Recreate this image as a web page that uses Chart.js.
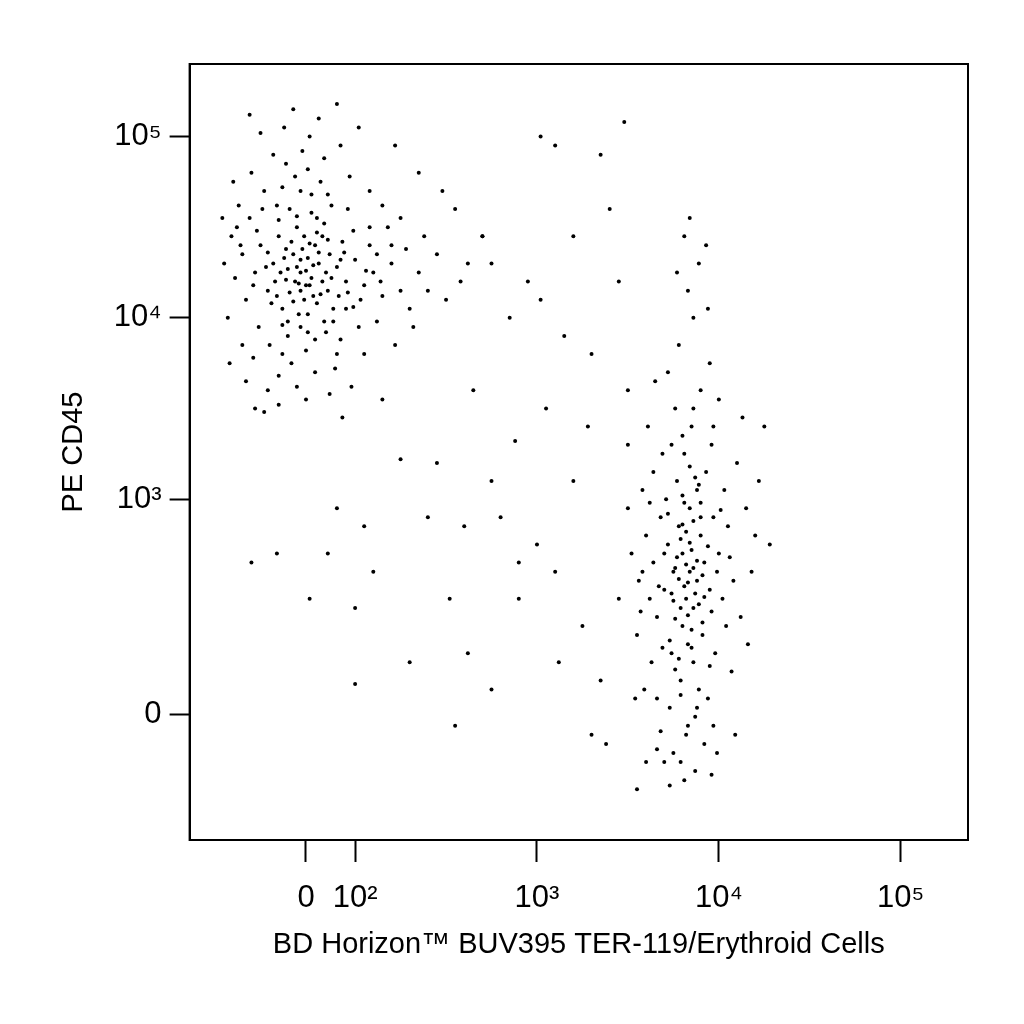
<!DOCTYPE html>
<html><head><script src="https://cdn.jsdelivr.net/npm/chart.js@4"></script>
<style>body{margin:0;background:#fff}</style></head>
<body><canvas id="c" width="1024" height="1024"></canvas>
<script>
// Axis units: decade position (2 = 10^2, 3 = 10^3 ...), "0" is at 1.73 on x, 1.81 on y (biexponential display)
const xTickValues=[1.73,2,3,4,5];
const xTickLabels=["0","10²","10³","10⁴","10⁵"];
const yTickValues=[1.81,3,4,5];
const yTickLabels=["0","10³","10⁴","10⁵"];
const xTitle="BD Horizon™ BUV395 TER-119/Erythroid Cells";
const yTitle="PE CD45";
// Leukocyte cluster (CD45+ TER-119-)
const leukocytes=[[1.62,4.21],[1.70,4.25],[1.75,4.18],[1.80,4.30],[1.66,4.35],[1.72,4.10],[1.85,4.15],[1.78,4.40],[1.60,4.05],[1.68,4.50],[1.90,4.28],[1.55,4.30],[1.74,4.02],[1.82,4.45],[1.95,4.20],[1.58,4.45],[1.64,4.60],[1.88,4.05],[2.00,4.32],[1.52,4.15],[1.70,3.95],[1.79,4.55],[1.63,3.90],[1.93,4.42],[2.05,4.18],[1.48,4.40],[1.57,4.62],[1.84,3.92],[1.76,4.68],[1.67,4.78],[1.45,4.25],[1.99,4.06],[2.10,4.25],[1.42,4.55],[1.53,3.85],[1.87,4.62],[1.73,3.82],[2.08,4.40],[1.60,4.72],[1.81,4.75],[1.40,4.10],[2.15,4.12],[1.50,4.70],[1.92,3.88],[1.65,3.75],[2.02,3.95],[1.38,4.35],[1.78,3.70],[2.20,4.30],[1.47,3.95],[1.58,3.68],[1.96,4.60],[1.36,4.62],[1.83,4.88],[1.62,4.85],[2.12,3.98],[1.71,4.92],[1.44,3.78],[2.25,4.15],[1.89,3.72],[1.55,4.90],[2.18,4.50],[1.34,4.22],[1.68,3.62],[2.05,3.80],[1.32,4.45],[1.97,4.78],[1.52,3.60],[2.28,4.38],[1.75,5.00],[1.43,4.80],[2.30,4.05],[1.86,3.58],[1.61,5.05],[2.35,4.25],[1.30,4.00],[1.40,3.65],[2.22,3.85],[1.92,4.95],[1.33,4.75],[2.40,4.15],[1.73,3.55],[2.08,4.70],[1.48,5.02],[1.28,4.30],[2.15,4.62],[1.58,3.52],[1.98,3.62],[2.32,3.95],[1.80,5.10],[1.38,3.85],[2.45,4.35],[1.66,5.15],[2.25,4.55],[1.27,4.55],[2.02,5.05],[1.50,3.48],[2.38,4.45],[1.90,5.18],[1.31,3.75],[2.50,4.10],[1.70,4.15],[1.76,4.22],[1.68,4.28],[1.82,4.20],[1.74,4.33],[1.64,4.14],[1.79,4.08],[1.71,4.38],[1.86,4.35],[1.59,4.25],[1.73,4.26],[1.77,4.12],[1.67,4.20],[1.84,4.25],[1.61,4.33],[1.72,4.45],[1.80,4.36],[1.69,4.02],[1.91,4.12],[1.56,4.20],[1.94,4.36],[1.65,4.42],[1.83,4.52],[1.58,4.54],[1.76,4.58],[2.06,4.26],[1.54,4.08],[1.88,3.98],[1.99,4.48],[1.46,4.48],[2.12,4.35],[1.63,3.98],[1.78,3.88],[2.03,4.10],[1.49,4.60],[1.37,4.40],[1.85,4.68],[2.14,4.20],[1.70,4.70],[1.51,4.28],[1.95,4.05],[2.08,4.50],[1.60,3.80],[1.44,4.18],[1.90,3.80],[2.20,4.40],[1.35,4.50],[1.74,4.82],[2.55,4.60],[2.62,4.30],[2.70,4.45],[2.48,4.70],[2.58,4.20],[1.45,3.50],[1.42,5.12],[1.93,3.45],[1.69,4.19],[1.77,4.29],[1.63,4.27],[1.81,4.13],[1.73,4.18],[1.66,4.09],[1.87,4.22],[1.75,4.41],[1.62,4.38],[1.79,4.47],[1.70,4.32],[1.85,4.43],[1.57,4.12],[1.92,4.32],[1.68,4.56],[1.74,3.92],[1.60,3.96],[1.83,3.98],[1.96,4.14],[1.52,4.36]];
// Erythroid cluster (TER-119+ CD45 low)
const erythroid=[[3.84,2.60],[3.80,2.70],[3.88,2.55],[3.82,2.45],[3.90,2.80],[3.78,2.85],[3.86,2.40],[3.92,2.65],[3.75,2.60],[3.84,2.95],[3.80,2.30],[3.95,2.50],[3.72,2.75],[3.88,3.05],[3.83,2.20],[3.97,2.90],[3.70,2.50],[3.91,2.25],[3.77,3.10],[3.86,2.10],[4.00,2.70],[3.68,2.90],[3.93,3.15],[3.74,2.15],[3.89,1.95],[3.81,3.25],[4.02,2.45],[3.66,2.35],[3.96,3.30],[3.79,2.00],[3.85,3.40],[3.71,3.00],[4.05,2.85],[3.64,2.65],[3.94,1.90],[3.76,3.50],[3.87,1.80],[4.03,3.05],[3.62,2.45],[3.98,2.15],[3.73,1.85],[3.90,3.60],[4.08,2.55],[3.60,2.80],[3.82,1.70],[3.95,3.75],[3.69,3.25],[4.10,3.20],[3.63,2.10],[3.78,3.85],[3.92,1.65],[4.12,2.35],[3.58,3.05],[3.86,4.00],[3.75,1.60],[4.00,3.55],[3.66,1.90],[3.83,4.15],[4.15,2.95],[3.56,2.55],[3.97,1.75],[3.72,3.70],[4.07,2.05],[3.61,3.40],[3.89,4.30],[3.79,1.55],[4.18,2.60],[3.55,2.25],[3.94,4.05],[3.68,1.72],[4.13,3.45],[3.81,4.45],[3.87,1.50],[4.20,2.80],[3.59,1.95],[3.77,4.25],[3.99,1.60],[4.16,2.20],[3.84,4.55],[3.65,3.65],[3.52,2.70],[4.22,3.10],[3.70,1.55],[3.93,4.40],[3.76,2.62],[3.85,2.72],[3.81,2.52],[3.88,2.66],[3.79,2.78],[3.83,2.36],[3.91,2.58],[3.74,2.48],[3.86,2.88],[3.78,2.56],[3.82,2.82],[3.89,2.42],[3.77,2.68],[3.94,2.74],[3.72,2.92],[3.85,2.28],[3.80,3.02],[3.96,2.38],[3.73,2.22],[3.87,3.12],[3.70,2.70],[3.99,2.60],[3.76,2.06],[3.90,2.98],[3.67,2.52],[4.01,2.94],[3.79,1.92],[3.84,3.18],[3.62,2.98],[3.95,2.08],[3.74,3.30],[4.04,2.30],[3.58,2.60],[3.88,1.85],[3.80,3.35],[3.69,2.18],[3.97,3.40],[3.83,1.75],[4.06,2.68],[3.64,3.15],[3.91,2.32],[3.86,3.50],[3.57,2.38],[4.28,2.75],[3.54,1.90],[3.81,1.45],[3.96,1.48],[3.66,1.62],[4.09,1.70],[3.73,1.42],[3.50,3.30],[4.25,3.40],[3.82,2.64],[3.87,2.48],[3.79,2.40],[3.84,2.76],[3.76,2.34],[3.90,2.90],[3.83,2.54],[3.80,2.86],[3.86,2.62],[3.75,2.44],[3.92,2.46],[3.81,2.98],[3.85,2.18],[3.78,2.12],[3.89,3.08]];
// Sparse events between populations
const sparse=[[2.25,3.22],[2.40,2.90],[2.05,2.85],[1.90,2.95],[2.60,2.85],[2.10,2.60],[1.75,2.45],[2.00,2.40],[2.30,2.10],[2.00,1.98],[1.57,2.70],[1.43,2.65],[1.85,2.70],[2.45,3.20],[2.65,3.60],[2.75,4.30],[2.85,4.00],[2.95,4.20],[3.02,4.10],[3.15,3.90],[3.30,3.80],[3.45,4.20],[3.50,3.60],[3.20,3.10],[3.05,3.50],[2.90,2.65],[2.75,3.10],[2.80,2.90],[3.00,2.75],[3.10,2.60],[3.25,2.30],[3.35,2.00],[3.38,1.65],[3.30,1.70],[3.55,1.40],[3.60,1.55],[2.62,2.15],[2.55,1.75],[2.75,1.95],[3.10,4.95],[3.35,4.90],[3.48,5.08],[3.02,5.00],[3.40,4.60],[3.20,4.45],[3.28,3.40],[2.90,2.45],[2.52,2.45],[2.88,3.32],[3.50,2.95],[2.70,4.45],[2.35,4.80],[2.22,4.95],[3.12,2.10],[3.45,2.45],[2.15,3.55]];

new Chart(document.getElementById('c'),{
 type:'scatter',
 data:{datasets:[leukocytes,erythroid,sparse].map(d=>({data:d.map(p=>({x:p[0],y:p[1]})),pointRadius:2,pointBorderWidth:0,backgroundColor:'#000'}))},
 options:{responsive:false,animation:false,devicePixelRatio:1,
  layout:{padding:{left:53,right:56,top:64,bottom:62}},
  plugins:{legend:{display:false},tooltip:{enabled:false}},
  scales:{
   x:{type:'linear',min:1.09,max:5.37,
    afterBuildTicks:a=>{a.ticks=xTickValues.map(v=>({value:v}));},
    ticks:{callback:(v,i)=>xTickLabels[i],color:'#000',font:{family:'Liberation Sans, Arial',size:31},maxRotation:0,autoSkip:false,padding:18},
    grid:{drawOnChartArea:false,color:'#000',tickLength:22,tickWidth:2},border:{color:'#000',width:2},
    title:{display:true,text:xTitle,color:'#000',font:{family:'Liberation Sans, Arial',size:29},padding:{top:-8,bottom:0}}},
   y:{type:'linear',min:1.12,max:5.4,
    afterBuildTicks:a=>{a.ticks=yTickValues.map(v=>({value:v}));},
    ticks:{callback:(v,i)=>yTickLabels[i],color:'#000',font:{family:'Liberation Sans, Arial',size:31},autoSkip:false,padding:8},
    grid:{drawOnChartArea:false,color:'#000',tickLength:20,tickWidth:2},border:{color:'#000',width:2},
    title:{display:true,text:yTitle,color:'#000',font:{family:'Liberation Sans, Arial',size:29},padding:{bottom:14}}}
  }},
 plugins:[{id:'frame',afterDraw(c){const a=c.chartArea,x=c.ctx;x.save();x.strokeStyle='#000';x.lineWidth=2;x.strokeRect(a.left,a.top,a.right-a.left,a.bottom-a.top);x.restore();}}]
});
</script></body></html>
